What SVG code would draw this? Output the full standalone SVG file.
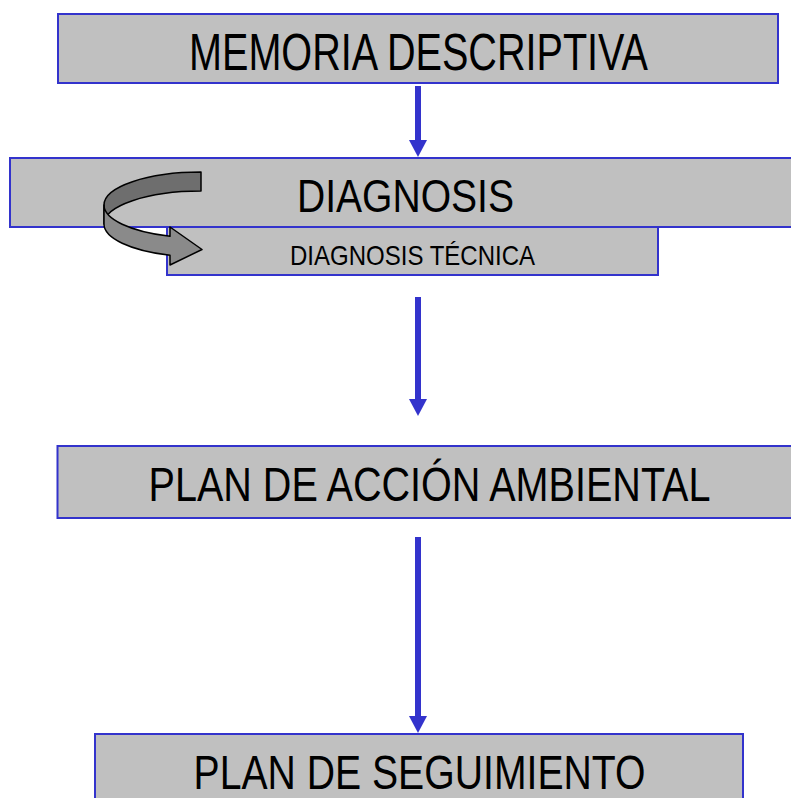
<svg xmlns="http://www.w3.org/2000/svg" width="791" height="798" viewBox="0 0 791 798">
<style>
.box{fill:#C0C0C0;stroke:#3333CC;stroke-width:2}
.lbl{font-family:"Liberation Sans",Arial,sans-serif;fill:#000}
.conn{stroke:#3333CC;stroke-width:6;fill:none}
</style>
<defs>
<marker id="ah" markerUnits="userSpaceOnUse" markerWidth="18" markerHeight="18" viewBox="0 0 18 18" refX="0" refY="9" orient="auto">
<path d="M0,0 L17,9 L0,18 Z" fill="#3333CC"/>
</marker>
</defs>
<rect width="791" height="798" fill="#FFFFFF"/>
<g id="memoria">
<rect class="box" x="58" y="14" width="720" height="69"/>
<text class="lbl" x="189" y="70" font-size="51" textLength="459" lengthAdjust="spacingAndGlyphs">MEMORIA DESCRIPTIVA</text>
</g>
<g id="diagnosis">
<rect class="box" x="10" y="158" width="782" height="69"/>
<text class="lbl" x="297" y="212" font-size="47" textLength="217" lengthAdjust="spacingAndGlyphs">DIAGNOSIS</text>
</g>
<g id="diagnosis-tecnica">
<rect class="box" x="167" y="227" width="491" height="48"/>
<text class="lbl" x="290" y="265" font-size="28" textLength="245" lengthAdjust="spacingAndGlyphs">DIAGNOSIS TÉCNICA</text>
</g>
<g id="curved-arrow" stroke="#000" stroke-width="1.5" stroke-linejoin="round">
<path d="M201,172 A97,33 0 0 0 104,205 L104,224 A97,33 0 0 1 201,191 Z" fill="#6E6E6E"/>
<path d="M104,205 A97,33 0 0 0 170,236.3 L170,227 L202,249.5 L170,265 L170,255.3 A97,33 0 0 1 104,224 Z" fill="#8A8A8A"/>
</g>
<g id="plan-accion">
<rect class="box" x="57.5" y="446" width="734.5" height="72"/>
<text class="lbl" x="148.5" y="501" font-size="48" textLength="562" lengthAdjust="spacingAndGlyphs">PLAN DE ACCIÓN AMBIENTAL</text>
</g>
<g id="plan-seguimiento">
<rect class="box" x="95" y="734" width="648" height="65"/>
<text class="lbl" x="193.5" y="789" font-size="47.5" textLength="452" lengthAdjust="spacingAndGlyphs">PLAN DE SEGUIMIENTO</text>
</g>
<g id="connectors">
<path class="conn" d="M418,86 V140" marker-end="url(#ah)"/>
<path class="conn" d="M418,297 V399" marker-end="url(#ah)"/>
<path class="conn" d="M418,537 V716" marker-end="url(#ah)"/>
</g>
</svg>
